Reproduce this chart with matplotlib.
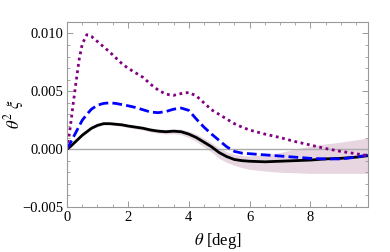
import numpy as np
import matplotlib.pyplot as plt
from matplotlib.ticker import MultipleLocator

# --- data (values in units of 1e-3) ---
theta = [0, 0.1, 0.2, 0.3, 0.4, 0.5, 0.65, 0.8, 1.0, 1.2, 1.4, 1.6, 1.8, 2.0,
         2.25, 2.5, 2.75, 3.0, 3.25, 3.5, 3.75, 4.0, 4.25, 4.5, 4.75, 5.0,
         5.25, 5.5, 5.75, 6.0, 6.5, 7.0, 7.5, 8.0, 8.5, 9.0, 9.5, 9.9]

purple = [0, 1.8, 3.9, 5.9, 7.8, 9.1, 9.9, 9.75, 9.3, 8.85, 8.4, 7.9, 7.4, 7.0,
          6.6, 6.2, 5.6, 5.1, 4.75, 4.65, 4.8, 4.9, 4.6, 4.0, 3.4, 3.0,
          2.6, 2.2, 1.9, 1.65, 1.3, 1.0, 0.65, 0.35, 0.05, -0.2, -0.4, -0.57]

blue = [0, 0.5, 1.0, 1.5, 2.0, 2.5, 3.0, 3.45, 3.8, 3.95, 4.0, 3.95, 3.85, 3.75,
        3.6, 3.4, 3.2, 3.15, 3.25, 3.45, 3.55, 3.35, 2.6, 1.9, 1.3, 0.75,
        0.2, -0.2, -0.35, -0.4, -0.5, -0.6, -0.7, -0.8, -0.85, -0.85, -0.7, -0.5]

black = [0, 0.2, 0.45, 0.7, 0.95, 1.2, 1.5, 1.8, 2.05, 2.2, 2.2, 2.15, 2.1, 2.0,
         1.9, 1.8, 1.65, 1.55, 1.5, 1.55, 1.5, 1.3, 1.0, 0.6, 0.2, -0.3,
         -0.65, -0.9, -1.0, -1.05, -1.1, -1.05, -1.0, -0.95, -0.85, -0.8, -0.7, -0.57]

band_hi = [0, 0.25, 0.55, 0.8, 1.05, 1.3, 1.6, 1.9, 2.15, 2.3, 2.3, 2.27, 2.22, 2.13,
           2.05, 1.95, 1.82, 1.73, 1.7, 1.75, 1.72, 1.55, 1.3, 0.95, 0.55, 0.1,
           -0.25, -0.45, -0.55, -0.6, -0.5, -0.3, 0.0, 0.25, 0.45, 0.6, 0.8, 0.95]

band_lo = [0, 0.15, 0.35, 0.6, 0.85, 1.1, 1.4, 1.7, 1.95, 2.1, 2.1, 2.03, 1.97, 1.87,
           1.75, 1.65, 1.48, 1.37, 1.3, 1.33, 1.25, 1.0, 0.65, 0.2, -0.25, -0.8,
           -1.15, -1.4, -1.6, -1.75, -1.9, -2.0, -2.05, -2.1, -2.1, -2.1, -2.1, -2.1]

s = 1e-3
plt.rcParams['font.family'] = ['Liberation Serif', 'DejaVu Serif']
plt.rcParams['mathtext.fontset'] = 'stix'

fig = plt.figure(figsize=(3.9, 2.52), dpi=100)
ax = fig.add_axes([0.172, 0.179, 0.772, 0.734])

ax.fill_between(theta, np.array(band_lo) * s, np.array(band_hi) * s,
                color='#e7d5e0', linewidth=0)
ax.axhline(0, color='#aaaaaa', linewidth=1.0)
ax.plot(theta, np.array(black) * s, color='black', linewidth=2.0)
ax.plot(theta, np.array(blue) * s, color='#0000ff', linewidth=2.0,
        linestyle=(0, (3.5, 1.5)))
ax.plot(theta, np.array(purple) * s, color='#800080', linewidth=2.0,
        linestyle=(0, (1, 1.3)))

ax.set_xlim(0, 9.9)
ax.set_ylim(-0.005, 0.011)
ax.xaxis.set_minor_locator(MultipleLocator(0.5))
ax.yaxis.set_minor_locator(MultipleLocator(0.001))
ax.set_yticks([-0.005, 0.0, 0.005, 0.010])
ax.set_yticklabels(['\u22120.005', '0.000', '0.005', '0.010'])
ax.set_xticks([0, 2, 4, 6, 8])
ax.set_xticklabels(['0', '2', '4', '6', '8'])

ax.tick_params(which='both', direction='in', top=True, right=True,
               color='#999999', labelsize=10.5, pad=3)
ax.tick_params(which='major', length=4, width=0.7)
ax.tick_params(which='minor', length=2.2, width=0.6)
for sp in ax.spines.values():
    sp.set_color('#999999')
    sp.set_linewidth(0.8)

ax.set_xlabel(r'$\theta$ [deg]', fontsize=12, labelpad=5)
ax.set_ylabel(r'$\theta^2\ \xi$', fontsize=12)
ax.yaxis.set_label_coords(-0.135, 0.5)

fig.savefig('out.png', dpi=100)
